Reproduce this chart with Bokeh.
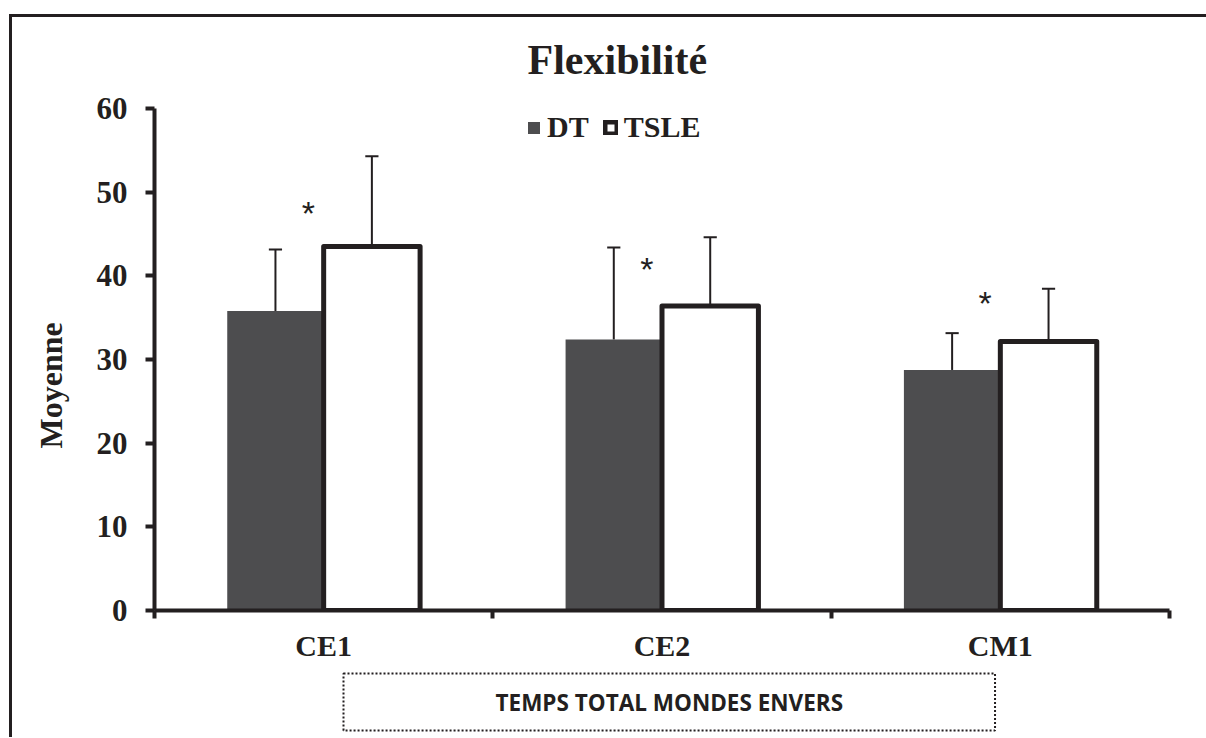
import numpy as np
from bokeh.plotting import figure
from bokeh.models import (ColumnDataSource, Range1d, FixedTicker, Legend, LegendItem, Title)
from bokeh.transform import dodge
from bokeh.core.properties import value
from bokeh.embed import file_html
from bokeh.resources import INLINE

# ---- data ----
categories = ["CE1", "CE2", "CM1"]
series = ["DT", "TSLE"]
dt_mean = [35.8, 32.4, 28.75]
dt_err = [7.35, 11.0, 4.4]
tsle_mean = [43.5, 36.4, 32.15]
tsle_err = [10.8, 8.2, 6.3]
sig_y = [47.5, 40.8, 36.7]
y_ticks = [0, 10, 20, 30, 40, 50, 60]
title_text = "Flexibilité"
y_label = "Moyenne"
x_caption = "TEMPS TOTAL MONDES ENVERS"

INK = "#231f20"
DARK = "#4d4d4f"
SERIF = "Liberation Serif"

xs = [i + 0.5 for i in range(len(categories))]
src = ColumnDataSource(dict(
    x=xs, dt=dt_mean, tsle=tsle_mean,
    dt_hi=[m + e for m, e in zip(dt_mean, dt_err)],
    tsle_hi=[m + e for m, e in zip(tsle_mean, tsle_err)],
    sig=sig_y, star=["*"] * len(categories)))

p = figure(width=1206, height=737,
           x_range=Range1d(0, len(categories)), y_range=Range1d(0, 60),
           output_backend="svg", toolbar_location=None,
           min_border_left=154, min_border_right=37,
           min_border_top=108, min_border_bottom=127)
p.outline_line_color = None
p.background_fill_color = "white"
p.border_fill_alpha = 0
p.xgrid.visible = False
p.ygrid.visible = False
# outer frame (left and top edges of the figure box)
p.styles = {
    "background-image": "linear-gradient(#231f20,#231f20), linear-gradient(#231f20,#231f20)",
    "background-size": "3px 100%, 100% 3px",
    "background-position": "9px 14px, 9px 14px",
    "background-repeat": "no-repeat",
}

p.title.text = title_text
p.title.align = "left"
p.title.offset = 373
p.title.text_font = SERIF
p.title.text_font_size = "42px"
p.title.text_font_style = "bold"
p.title.text_color = INK
p.title.standoff = 51

OFF = 0.1425
W = 0.285
CAP = 0.0195
r_dt = p.vbar(x=dodge("x", -OFF), top="dt", bottom=0, width=W, source=src,
              fill_color=DARK, line_color=None)
r_ts = p.vbar(x=dodge("x", OFF), top="tsle", bottom=0, width=W, source=src,
              fill_color="white", line_color=INK, line_width=5, line_join="round")

for key, off in (("dt", -OFF), ("tsle", OFF)):
    p.segment(x0=dodge("x", off), x1=dodge("x", off), y0=key, y1=key + "_hi",
              source=src, line_color=INK, line_width=2)
    p.segment(x0=dodge("x", off - CAP), x1=dodge("x", off + CAP),
              y0=key + "_hi", y1=key + "_hi", source=src, line_color=INK, line_width=2)

p.text(x=dodge("x", -0.045), y="sig", text="star", source=src,
       text_font=value("Liberation Sans"), text_font_size="34px",
       text_align="center", text_baseline="middle", text_color=INK)

xa = p.xaxis[0]
xa.ticker = FixedTicker(ticks=xs, minor_ticks=list(range(len(categories) + 1)))
xa.major_label_overrides = {x: c for x, c in zip(xs, categories)}
xa.major_tick_line_color = None
xa.major_tick_out = 0
xa.major_tick_in = 0
xa.minor_tick_out = 8
xa.minor_tick_in = 0
xa.minor_tick_line_width = 4
xa.minor_tick_line_color = INK
xa.axis_line_width = 4
xa.axis_line_color = INK
xa.major_label_text_font = SERIF
xa.major_label_text_font_size = "30px"
xa.major_label_text_font_style = "bold"
xa.major_label_text_color = INK
xa.major_label_standoff = 10

ya = p.yaxis[0]
ya.ticker = FixedTicker(ticks=y_ticks, minor_ticks=[])
ya.major_tick_out = 9
ya.major_tick_in = 0
ya.major_tick_line_width = 4
ya.major_tick_line_color = INK
ya.minor_tick_line_color = None
ya.axis_line_width = 4
ya.axis_line_color = INK
ya.major_label_text_font = SERIF
ya.major_label_text_font_size = "31px"
ya.major_label_text_font_style = "bold"
ya.major_label_text_color = INK
ya.major_label_standoff = 18

ylab = Title(text=y_label, align="left", offset=162, standoff=50,
             text_font=SERIF, text_font_size="32px", text_font_style="bold",
             text_color=INK)
p.add_layout(ylab, "left")

legend = Legend(items=[LegendItem(label=series[0], renderers=[r_dt]),
                       LegendItem(label=series[1], renderers=[r_ts])],
                orientation="horizontal", location=(372, 466),
                padding=0, margin=0, spacing=14, label_standoff=6,
                glyph_width=15, glyph_height=15,
                border_line_color=None, background_fill_alpha=0,
                label_text_font=SERIF, label_text_font_size="30px",
                label_text_font_style="bold", label_text_color=INK)
p.add_layout(legend)

caption = Title(text=x_caption, align="left", offset=189, standoff=14,
                text_font="Open Sans", text_font_size="22.5px", text_font_style="bold",
                text_color=INK, border_line_color=INK, border_line_width=2,
                border_line_dash="2 2", padding=(152, 13))
p.add_layout(caption, "below")

open("out.html", "w").write(file_html(p, INLINE))
